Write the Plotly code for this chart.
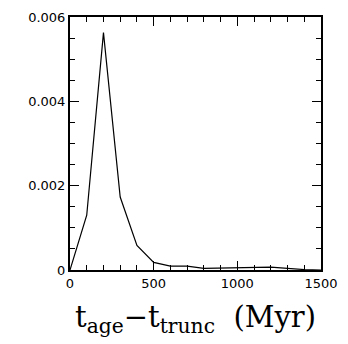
import plotly.graph_objects as go

t_diff = [0, 100, 200, 300, 400, 500, 600, 700, 800, 900, 1000, 1100, 1200, 1300, 1400, 1500]
frac = [0.0, 0.0013, 0.00563, 0.00173, 0.00058, 0.00018, 0.00009, 0.00009, 0.00004,
        0.00005, 0.00005, 0.00006, 0.00007, 0.00004, 0.00001, 0.0]

x_ticks = [0, 500, 1000, 1500]
x_labels = ["0", "500", "1000", "1500"]
y_ticks = [0, 0.002, 0.004, 0.006]
y_labels = ["0", "0.002", "0.004", "0.006"]

fig = go.Figure()
fig.add_trace(go.Scatter(x=t_diff, y=frac, mode="lines",
                         line=dict(color="black", width=1.2), showlegend=False))

tickfont = dict(family="DejaVu Sans", size=13, color="black")
fig.update_xaxes(range=[0, 1500], tickvals=x_ticks, ticktext=x_labels,
                 ticks="inside", ticklen=9, tickwidth=1, tickcolor="black",
                 minor=dict(ticks="inside", dtick=100, ticklen=5, tickwidth=1, tickcolor="black"),
                 showline=True, linecolor="black", linewidth=2, mirror="allticks",
                 showgrid=False, zeroline=False, tickfont=tickfont)
fig.update_yaxes(range=[0, 0.006], tickvals=y_ticks, ticktext=y_labels,
                 ticks="inside", ticklen=9, tickwidth=1, tickcolor="black",
                 minor=dict(ticks="inside", dtick=0.0005, ticklen=5, tickwidth=1, tickcolor="black"),
                 showline=True, linecolor="black", linewidth=2, mirror="allticks",
                 showgrid=False, zeroline=False, tickfont=tickfont)

fig.add_annotation(text="t<sub>age</sub>\u2212t<sub>trunc</sub>  (Myr)",
                   x=0.5, y=-0.275, xref="paper", yref="paper",
                   xanchor="center", yanchor="bottom", showarrow=False,
                   font=dict(family="DejaVu Serif", size=29, color="black"))

fig.update_layout(width=348, height=344, margin=dict(l=70, r=26, t=10, b=74),
                  plot_bgcolor="white", paper_bgcolor="white")
fig.write_html("out.html")
